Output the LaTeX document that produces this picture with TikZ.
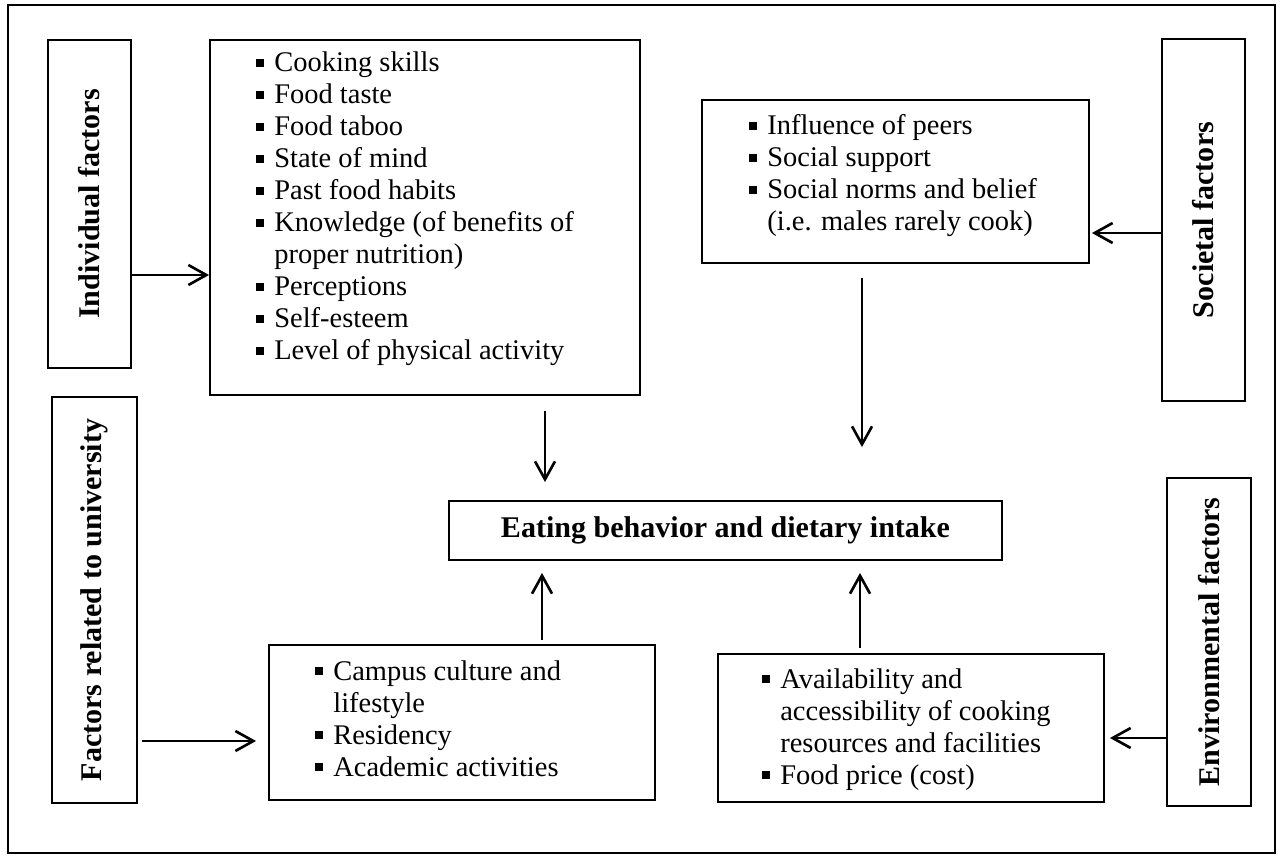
\documentclass[tikz,border=0pt]{standalone}
\usepackage{fontspec}
\setmainfont{Liberation Serif}
\usetikzlibrary{arrows.meta,positioning}

% small square bullet and the indent of a wrapped line
\newcommand{\sqbul}{\makebox[0.36cm][l]{\rule[0.1cm]{0.16cm}{0.16cm}}}
\newcommand{\hang}{\hspace*{0.36cm}}

\begin{document}
\begin{tikzpicture}[x=0.02cm, y=-0.02cm,
    box/.style={draw, line width=1.1pt, inner sep=0pt},
    lst/.style={align=left, anchor=west, inner sep=0pt, font=\fontsize{16.2pt}{18.2pt}\selectfont},
    lbl/.style={rotate=90, inner sep=0pt, font=\fontsize{17.1pt}{20pt}\selectfont\bfseries},
    arr/.style={line width=1.5pt, -{Straight Barb[length=3.6mm,width=4mm]}}]

    \useasboundingbox (0,0) rectangle (1280,858);

    % Outer frame
    \draw[line width=1.1pt] (8,5) rectangle (1275,853);

    % Boxes (positions in pixels of the layout)
    \node[box, minimum width=1.66cm, minimum height=6.56cm] (indiv) at (89.5,204) {};
    \node[box, minimum width=8.6cm, minimum height=7.1cm] (cook) at (425,217.5) {};
    \node[box, minimum width=7.74cm, minimum height=3.26cm] (social) at (895.5,181.5) {};
    \node[box, minimum width=1.66cm, minimum height=7.24cm] (societal) at (1203.5,220) {};
    \node[box, minimum width=1.7cm, minimum height=8.12cm] (univ) at (94.5,600) {};
    \node[box, minimum width=11.06cm, minimum height=1.18cm,
          font=\fontsize{17.1pt}{20pt}\selectfont\bfseries] (eat) at (725.5,530.5)
          {Eating behavior and dietary intake};
    \node[box, minimum width=7.72cm, minimum height=3.1cm] (campus) at (462,722.5) {};
    \node[box, minimum width=7.72cm, minimum height=2.96cm] (avail) at (911,728) {};
    \node[box, minimum width=1.68cm, minimum height=6.56cm] (env) at (1209,642) {};

    % Rotated labels
    \node[lbl] (indivlbl) at (indiv) {Individual factors};
    \node[lbl] (societallbl) at (societal) {Societal factors};
    \node[lbl] (univlbl) at (univ) {Factors related to university};
    \node[lbl] (envlbl) at (env) {Environmental factors};

    % Lists
    \node[lst] (cooklst) at (256,209) {\sqbul Cooking skills\\
        \sqbul Food taste\\
        \sqbul Food taboo\\
        \sqbul State of mind\\
        \sqbul Past food habits\\
        \sqbul Knowledge (of benefits of\\
        \hang proper nutrition)\\
        \sqbul Perceptions\\
        \sqbul Self-esteem\\
        \sqbul Level of physical activity};
    \node[lst] (sociallst) at (749,176) {\sqbul Influence of peers\\
        \sqbul Social support\\
        \sqbul Social norms and belief\\
        \hang (i.e. males rarely cook)};
    \node[lst] (campuslst) at (315,718.5) {\sqbul Campus culture and\\
        \hang lifestyle\\
        \sqbul Residency\\
        \sqbul Academic activities};
    \node[lst] (availlst) at (762,729.5) {\sqbul Availability and\\
        \hang accessibility of cooking\\
        \hang resources and facilities\\
        \sqbul Food price (cost)};

    % Arrows
    \draw[arr] (indiv.east |- 0,275) -- (cook.west |- 0,275);
    \draw[arr, shorten <=0.3cm, shorten >=0.36cm] (cook.south -| 545,0) -- (eat.north -| 545,0);
    \draw[arr, shorten <=0.28cm, shorten >=1.06cm] (social.south -| 862,0) -- (eat.north -| 862,0);
    \draw[arr, shorten >=0.04cm] (societal.west |- 0,233) -- (social.east |- 0,233);
    \draw[arr, shorten <=0.08cm, shorten >=0.24cm] (univ.east |- 0,741) -- (campus.west |- 0,741);
    \draw[arr, shorten <=0.08cm, shorten >=0.24cm] (campus.north -| 542,0) -- (eat.south -| 542,0);
    \draw[arr, shorten <=0.1cm, shorten >=0.24cm] (avail.north -| 860,0) -- (eat.south -| 860,0);
    \draw[arr, shorten >=0.1cm] (env.west |- 0,738) -- (avail.east |- 0,738);
\end{tikzpicture}
\end{document}
